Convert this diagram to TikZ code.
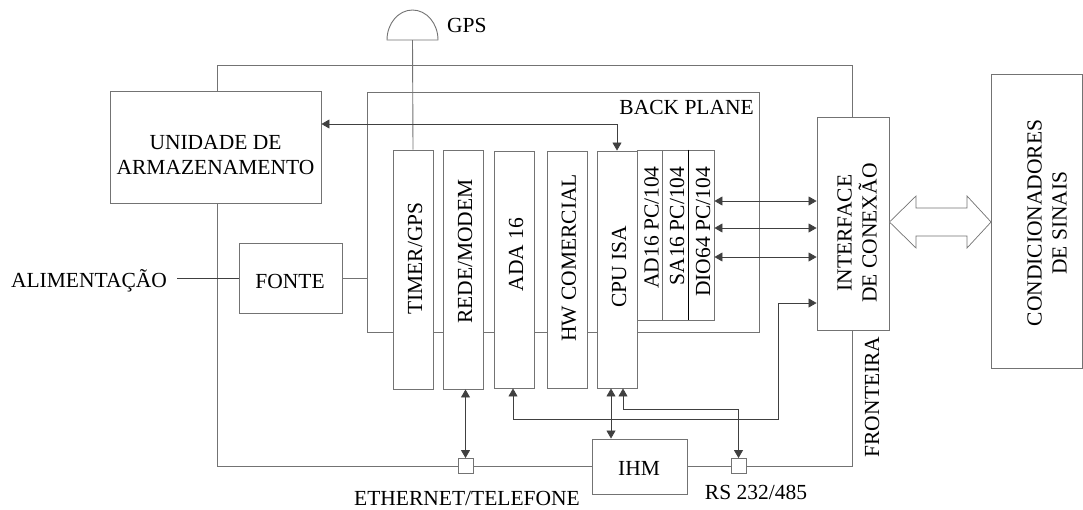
\documentclass[tikz,border=0pt]{standalone}
\usepackage{fontspec}
\setmainfont{Liberation Serif}
\usetikzlibrary{arrows.meta}
\begin{document}
\begin{tikzpicture}[x=1pt,y=-1pt, font=\fontsize{21.5}{25}\selectfont,
  box/.style={draw=black!55, line width=0.9pt, fill=white, inner sep=0pt},
  frame/.style={draw=black!55, line width=0.9pt},
  conn/.style={draw=black!75, line width=0.8pt},
  biarr/.style={conn, {Triangle[length=8pt,width=9pt]}-{Triangle[length=8pt,width=9pt]}},
  txt/.style={inner sep=0pt, align=center},
  vtxt/.style={inner sep=0pt, rotate=90, align=center}]
\useasboundingbox (0,0) rectangle (1083,509);

% outer frame (FRONTEIRA)
\draw[frame] (217,65.5) rectangle (852,466);

% back plane
\node[box, minimum width=392pt, minimum height=240pt] (bp) at (563,212) {};
\node[txt, anchor=east] (bpl) at (754,107.5) {BACK PLANE};

% GPS antenna
\draw[frame, fill=white] (387,40) arc[start angle=180, end angle=360, x radius=25.5, y radius=30] -- cycle;
\coordinate (ant) at (412.5,40);
\node[txt, anchor=west] (gpsl) at (447,25) {GPS};

% storage unit and power
\node[box, minimum width=211pt, minimum height=112pt] (unid) at (215.5,147) {};
\node[txt] (unidt) at (215.5,155) {UNIDADE DE\\ARMAZENAMENTO};
\node[box, minimum width=103pt, minimum height=70pt] (fonte) at (290.5,278) {};
\node[txt] (fontet) at (290,281) {FONTE};
\node[txt] (alim) at (89,281) {ALIMENTAÇÃO};

% cards
\node[box, minimum width=40pt, minimum height=239pt] (timer) at (413,269.5) {};
\node[box, minimum width=40pt, minimum height=239pt] (rede) at (463,269.5) {};
\node[box, minimum width=40pt, minimum height=237pt] (ada) at (514,269.5) {};
\node[box, minimum width=40pt, minimum height=237pt] (hw) at (567,269.5) {};
\node[box, minimum width=40pt, minimum height=237pt] (cpu) at (617,269.5) {};
\node[vtxt] (timert) at (415,258.5) {TIMER/GPS};
\node[vtxt] (redet) at (465,251.5) {REDE/MODEM};
\node[vtxt] (adat) at (516,254.5) {ADA 16};
\node[vtxt] (hwt) at (569,258) {HW COMERCIAL};
\node[vtxt] (cput) at (619,267) {CPU ISA};

% PC/104 stack
\node[box, minimum width=25.5pt, minimum height=170pt] (ad16) at (649.75,235) {};
\node[box, minimum width=25.5pt, minimum height=170pt] (sa16) at (675.25,235) {};
\node[box, minimum width=26pt, minimum height=170pt] (dio) at (701,235) {};
\draw[draw=black, line width=0.9pt] (sa16.north east) -- (sa16.south east);
\node[vtxt] (ad16t) at (651.5,227.5) {AD16 PC/104};
\node[vtxt] (sa16t) at (677,226) {SA16 PC/104};
\node[vtxt] (diot) at (703,232) {DIO64 PC/104};

% interface and conditioners
\node[box, minimum width=72pt, minimum height=213pt] (iface) at (853,224) {};
\node[vtxt] (ifacet) at (857,233) {INTERFACE\\DE CONEXÃO};
\node[box, minimum width=91pt, minimum height=294pt] (cond) at (1037,221) {};
\node[vtxt] (condt) at (1047,223) {CONDICIONADORES\\DE SINAIS};
\node[vtxt] (front) at (872,397) {FRONTEIRA};

% IHM and ports
\node[box, minimum width=95pt, minimum height=55pt] (ihm) at (639.5,466.5) {};
\node[txt] (ihmt) at (639,468) {IHM};
\node[box, minimum width=15pt, minimum height=15pt] (eth) at (465.5,466) {};
\node[box, minimum width=15pt, minimum height=15pt] (rs) at (738.5,466) {};
\node[txt, anchor=base] (etht) at (467,505.5) {ETHERNET/TELEFONE};
\node[txt] (rst) at (756,492) {RS 232/485};

% connectors
\draw[frame] (ant) -- (timer.north);
\draw[conn] ([xshift=10pt]alim.east |- fonte.west) -- (fonte.west);
\draw[frame] (fonte.east) -- (fonte.east -| bp.west);
\coordinate (bus) at (617,124);
\draw[biarr] (cpu.north) -- (bus) -- (bus -| unid.east);
\draw[biarr] (dio.east |- 0,201) -- (iface.west |- 0,201);
\draw[biarr] (dio.east |- 0,228) -- (iface.west |- 0,228);
\draw[biarr] (dio.east |- 0,257) -- (iface.west |- 0,257);
\coordinate (c1) at (513,419);
\coordinate (c2) at (778,419);
\coordinate (c3) at (778,303);
\draw[biarr] (ada.south -| c1) -- (c1) -- (c2) -- (c3) -- (iface.west |- c3);
\coordinate (d1) at (611,0);
\draw[biarr] (cpu.south -| d1) -- (ihm.north -| d1);
\coordinate (e1) at (623,409);
\draw[biarr] (cpu.south -| e1) -- (e1) -- (e1 -| rs.north) -- (rs.north);
\draw[biarr] (eth.north |- rede.south) -- (eth.north);

% hollow double arrow
\draw[frame, line width=0.7pt, fill=white] (iface.east |- 0,222) -- (916,196) -- (916,208) -- (967,208) -- (967,196) -- (cond.west |- 0,222) -- (967,248) -- (967,236) -- (916,236) -- (916,248) -- cycle;
\end{tikzpicture}
\end{document}
